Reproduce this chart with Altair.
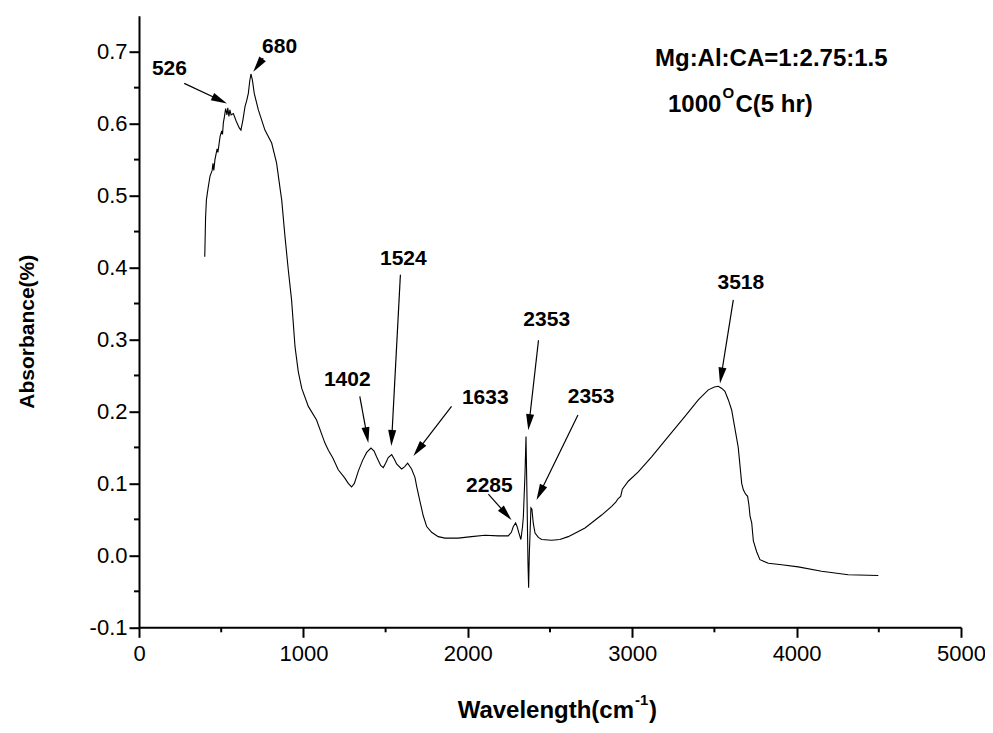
import math
import altair as alt
import pandas as pd

# ---------------- data ----------------
wavenumber = [400, 405, 410, 420, 432, 445, 450, 455, 462, 475, 480, 493, 503, 508, 513,
              520, 527, 535, 540, 547, 553, 560, 574, 592, 610, 620, 632, 645, 655, 665,
              674, 681, 690, 701, 726, 766, 807, 837, 858, 868, 888, 908, 928, 949, 969,
              990, 1030, 1080, 1131, 1152, 1180, 1212, 1250, 1273, 1293, 1310, 1334, 1360,
              1385, 1411, 1430, 1445, 1470, 1486, 1500, 1516, 1537, 1555, 1567, 1597, 1615,
              1634, 1658, 1679, 1689, 1709, 1729, 1750, 1780, 1820, 1861, 1942, 2023, 2104,
              2185, 2246, 2265, 2277, 2291, 2300, 2311, 2323, 2333, 2338, 2348, 2354, 2360,
              2366, 2370, 2374, 2384, 2390, 2398, 2409, 2429, 2449, 2510, 2560, 2611, 2713,
              2814, 2875, 2900, 2915, 2930, 2940, 2976, 3037, 3118, 3219, 3321, 3402, 3463,
              3500, 3524, 3545, 3564, 3585, 3605, 3625, 3645, 3666, 3676, 3690, 3702, 3710,
              3717, 3727, 3737, 3757, 3777, 3828, 3909, 4010, 4152, 4314, 4497]
absorbance = [0.415, 0.470, 0.494, 0.510, 0.527, 0.535, 0.545, 0.535, 0.550, 0.565, 0.560,
              0.582, 0.590, 0.585, 0.601, 0.610, 0.621, 0.612, 0.622, 0.610, 0.619, 0.612,
              0.614, 0.603, 0.594, 0.591, 0.605, 0.624, 0.632, 0.642, 0.660, 0.669, 0.660,
              0.642, 0.619, 0.591, 0.573, 0.545, 0.510, 0.494, 0.443, 0.397, 0.355, 0.290,
              0.255, 0.232, 0.207, 0.188, 0.156, 0.146, 0.135, 0.119, 0.108, 0.100, 0.095,
              0.100, 0.117, 0.132, 0.143, 0.149, 0.145, 0.137, 0.125, 0.122, 0.128, 0.136,
              0.140, 0.133, 0.127, 0.120, 0.123, 0.128, 0.120, 0.108, 0.096, 0.075, 0.055,
              0.040, 0.032, 0.026, 0.024, 0.024, 0.026, 0.028, 0.027, 0.027, 0.032, 0.040,
              0.045, 0.040, 0.031, 0.022, 0.040, 0.054, 0.114, 0.165, 0.082, -0.010, -0.045,
              0.000, 0.066, 0.064, 0.045, 0.031, 0.025, 0.022, 0.021, 0.022, 0.026, 0.038,
              0.056, 0.068, 0.074, 0.079, 0.082, 0.092, 0.103, 0.116, 0.137, 0.165, 0.193,
              0.216, 0.230, 0.234, 0.235, 0.232, 0.228, 0.216, 0.202, 0.176, 0.150, 0.100,
              0.091, 0.085, 0.082, 0.070, 0.054, 0.045, 0.020, 0.005, -0.006, -0.011, -0.013,
              -0.016, -0.022, -0.027, -0.028]

peak_labels = ["526", "680", "1402", "1524", "1633", "2285", "2353", "2353", "3518"]
label_x = [185, 855, 1267, 1608, 2106, 2131, 2480, 2750, 3661]
label_y = [0.676, 0.707, 0.244, 0.412, 0.219, 0.097, 0.327, 0.220, 0.379]
arrow_x0 = [275, 755, 1343, 1590, 1901, 2125, 2430, 2670, 3615]
arrow_y0 = [0.656, 0.691, 0.221, 0.390, 0.207, 0.085, 0.299, 0.195, 0.355]
arrow_x1 = [535, 695, 1395, 1535, 1669, 2266, 2368, 2418, 3534]
arrow_y1 = [0.628, 0.672, 0.156, 0.152, 0.138, 0.049, 0.174, 0.077, 0.239]

x_ticks = [0, 1000, 2000, 3000, 4000, 5000]
x_minor = [500, 1500, 2500, 3500, 4500]
y_ticks = [-0.1, 0.0, 0.1, 0.2, 0.3, 0.4, 0.5, 0.6, 0.7]
y_minor = [-0.05, 0.05, 0.15, 0.25, 0.35, 0.45, 0.55, 0.65]

# ---------------- layout ----------------
X_DOM = [0, 5000]
Y_DOM = [-0.1, 0.75]
W, H = 822, 611.6
KX = W / (X_DOM[1] - X_DOM[0])
KY = H / (Y_DOM[1] - Y_DOM[0])
FONT = "Liberation Sans"

xs = alt.Scale(domain=X_DOM, nice=False, zero=False)
ys = alt.Scale(domain=Y_DOM, nice=False, zero=False)

axis_common = dict(title=None, grid=False, tickSize=10, labelFontSize=22,
                   labelFont=FONT, labelColor="black", domainColor="black",
                   domainWidth=2, tickColor="black", tickWidth=2, labelFlush=False)
XAX = alt.Axis(values=x_ticks, labelExpr="format(datum.value, 'd')", labelPadding=6,
               **axis_common)
YAX = alt.Axis(values=y_ticks,
               labelExpr="datum.value < 0 ? '-' + format(-datum.value, '.1f') : format(datum.value, '.1f')",
               labelPadding=2, **axis_common)


def X(field):
    return alt.X(field, type="quantitative", scale=xs, axis=XAX)


def Y(field):
    return alt.Y(field, type="quantitative", scale=ys, axis=YAX)


spec_df = pd.DataFrame({"wavenumber": wavenumber, "absorbance": absorbance})
line = alt.Chart(spec_df).mark_line(color="black", strokeWidth=1.1).encode(
    x=X("wavenumber"), y=Y("absorbance"))

# minor ticks
ymin = alt.Chart(pd.DataFrame({"v": y_minor})).mark_rule(color="black", strokeWidth=2).encode(
    y=Y("v"), x=alt.value(-5), x2=alt.value(0))
xmin = alt.Chart(pd.DataFrame({"v": x_minor})).mark_rule(color="black", strokeWidth=2).encode(
    x=X("v"), y=alt.value(H), y2=alt.value(H + 5))

# arrows
HEAD = 8.0
rows = []
for lab, lx, ly, x0, y0, x1, y1 in zip(peak_labels, label_x, label_y,
                                       arrow_x0, arrow_y0, arrow_x1, arrow_y1):
    dx = (x1 - x0) * KX
    dy = -(y1 - y0) * KY
    n = math.hypot(dx, dy)
    ux, uy = dx / n, dy / n
    ang = math.degrees(math.atan2(ux, -uy)) % 360
    cx = x1 - HEAD * ux / KX
    cy = y1 + HEAD * uy / KY
    rows.append(dict(label=lab, lx=lx, ly=ly, x0=x0, y0=y0, cx=cx, cy=cy, ang=ang))
arr_df = pd.DataFrame(rows)

shafts = alt.Chart(arr_df).mark_rule(color="black", strokeWidth=1.2).encode(
    x=X("x0"), y=Y("y0"), x2="cx:Q", y2="cy:Q")
heads = alt.Chart(arr_df).mark_point(
    shape="M0,-1L-0.5,1L0.5,1Z", filled=True, color="black", opacity=1, size=(2 * HEAD) ** 2
).encode(x=X("cx"), y=Y("cy"), angle=alt.Angle("ang:Q", scale=None))
labels = alt.Chart(arr_df).mark_text(
    font=FONT, fontSize=21, fontWeight="bold", color="black", align="center", baseline="middle"
).encode(x=X("lx"), y=Y("ly"), text="label:N")

# free text (pixel placement relative to plot area)
txt_rows = [
    # text, x, y, size, align, angle
    ("Wavelength(cm", 495, 702, 24, "right", 0),
    ("-1", 496, 689, 15, "left", 0),
    (")", 510, 702, 24, "left", 0),
    ("Absorbance(%)", -111, 316, 21, "center", 270),
    ("Mg:Al:CA=1:2.75:1.5", 516, 50, 24, "left", 0),
    ("1000", 529, 96, 24, "left", 0),
    ("O", 583.5, 82, 15, "left", 0),
    ("C(5 hr)", 596.5, 96, 24, "left", 0),
]
free = []
for t, px, py, fs, al, an in txt_rows:
    free.append(
        alt.Chart(pd.DataFrame({"t": [t]})).mark_text(
            font=FONT, fontSize=fs, fontWeight="bold", color="black", align=al,
            baseline="middle" if an else "alphabetic", angle=an
        ).encode(x=alt.value(px), y=alt.value(py), text="t:N")
    )

chart = alt.layer(line, ymin, xmin, shafts, heads, labels, *free).properties(
    width=W, height=H, background="white",
    autosize=alt.AutoSizeParams(type="none"),
    padding={"left": 131, "top": 7.7, "right": 24, "bottom": 104},
).configure_view(stroke=None)

chart.save("out.html", embed_options={"renderer": "svg", "actions": False})
